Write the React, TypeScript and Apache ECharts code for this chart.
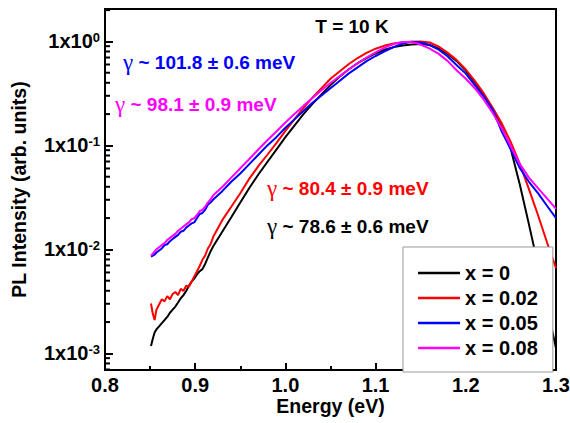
import React, { useEffect, useRef } from "react";
import * as echarts from "echarts";

// Photon energy (eV): finely sampled noisy low-energy tail + main band
const energyLow = [0.851, 0.853, 0.855, 0.857, 0.86, 0.863, 0.866, 0.869, 0.872, 0.875, 0.878, 0.881, 0.884, 0.887, 0.89, 0.893, 0.896, 0.899, 0.902, 0.905, 0.908, 0.911, 0.914, 0.917];
const energyHigh = [0.92, 0.93, 0.94, 0.95, 0.96, 0.97, 0.98, 0.99, 1.0, 1.01, 1.02, 1.03, 1.04, 1.05, 1.06, 1.07, 1.08, 1.09, 1.1, 1.11, 1.12, 1.13, 1.14, 1.15, 1.16, 1.17, 1.18, 1.19, 1.2, 1.21, 1.22, 1.23, 1.24, 1.25, 1.26, 1.27, 1.28, 1.29, 1.3];

// Normalised PL intensity (arb. units)
const x0Low = [0.00118, 0.00138, 0.00159, 0.0017, 0.00182, 0.00195, 0.00209, 0.00224, 0.00246, 0.00263, 0.00282, 0.00309, 0.00339, 0.00363, 0.00398, 0.00447, 0.0049, 0.00525, 0.00575, 0.00617, 0.00646, 0.00724, 0.00832, 0.00955];
const x0High = [0.0107, 0.0148, 0.0204, 0.0282, 0.0389, 0.0525, 0.0692, 0.0912, 0.12, 0.155, 0.2, 0.251, 0.309, 0.38, 0.457, 0.537, 0.617, 0.692, 0.767, 0.832, 0.881, 0.912, 0.933, 0.944, 0.923, 0.851, 0.759, 0.646, 0.525, 0.407, 0.302, 0.219, 0.148, 0.0912, 0.0417, 0.0174, 0.00708, 0.00282, 0.00112];

const x002Low = [0.00302, 0.0024, 0.00209, 0.00263, 0.00295, 0.00331, 0.00316, 0.00355, 0.00331, 0.00372, 0.00389, 0.00363, 0.00417, 0.00398, 0.00447, 0.00437, 0.0049, 0.0055, 0.00617, 0.00692, 0.00794, 0.00871, 0.0102, 0.0112];
const x002High = [0.0132, 0.0191, 0.0257, 0.0347, 0.0479, 0.0631, 0.0813, 0.105, 0.138, 0.178, 0.229, 0.288, 0.355, 0.437, 0.513, 0.603, 0.692, 0.776, 0.851, 0.912, 0.955, 0.982, 0.995, 1.0, 0.977, 0.891, 0.776, 0.661, 0.537, 0.417, 0.316, 0.229, 0.162, 0.107, 0.0661, 0.038, 0.0214, 0.0117, 0.00661];

const x005Low = [0.00851, 0.00871, 0.00891, 0.00933, 0.00977, 0.0102, 0.011, 0.0112, 0.012, 0.0126, 0.0132, 0.0138, 0.0148, 0.0151, 0.0162, 0.017, 0.0178, 0.0182, 0.02, 0.0219, 0.0224, 0.024, 0.0269, 0.0282];
const x005High = [0.0302, 0.0363, 0.0447, 0.0537, 0.0661, 0.0813, 0.1, 0.12, 0.148, 0.178, 0.214, 0.257, 0.302, 0.355, 0.417, 0.49, 0.562, 0.646, 0.724, 0.804, 0.881, 0.955, 0.993, 0.977, 0.923, 0.832, 0.716, 0.589, 0.49, 0.38, 0.295, 0.219, 0.135, 0.0912, 0.0603, 0.0447, 0.0347, 0.0263, 0.02];

const x008Low = [0.00871, 0.00912, 0.00955, 0.01, 0.0105, 0.011, 0.0115, 0.0123, 0.0129, 0.0135, 0.0141, 0.0151, 0.0158, 0.0166, 0.0174, 0.0182, 0.0195, 0.02, 0.0214, 0.0234, 0.024, 0.0257, 0.0282, 0.0302];
const x008High = [0.0331, 0.0398, 0.049, 0.0603, 0.0741, 0.0912, 0.112, 0.136, 0.166, 0.2, 0.24, 0.285, 0.339, 0.398, 0.462, 0.537, 0.617, 0.7, 0.785, 0.871, 0.944, 0.989, 0.989, 0.933, 0.851, 0.759, 0.646, 0.525, 0.437, 0.355, 0.275, 0.204, 0.145, 0.0977, 0.0661, 0.049, 0.0389, 0.0309, 0.0245];

const seriesNames = ["x = 0", "x = 0.02", "x = 0.05", "x = 0.08"];
const seriesColors = ["#000000", "#ff0000", "#0000ff", "#ff00ff"];
const seriesValues = [
  [...x0Low, ...x0High],
  [...x002Low, ...x002High],
  [...x005Low, ...x005High],
  [...x008Low, ...x008High],
];
const energies = [...energyLow, ...energyHigh];

// Log-axis minor tick values (2..9 x 10^n)
const minorTickValues = [0.0007, 0.0008, 0.0009, 0.002, 0.003, 0.004, 0.005, 0.006, 0.007, 0.008, 0.009, 0.02, 0.03, 0.04, 0.05, 0.06, 0.07, 0.08, 0.09, 0.2, 0.3, 0.4, 0.5, 0.6, 0.7, 0.8, 0.9, 2.0];

const annotations = [
  { text: " ~ 101.8 ± 0.6 meV", color: "#0000ff" },
  { text: " ~ 98.1 ± 0.9 meV", color: "#ff00ff" },
  { text: " ~ 80.4 ± 0.9 meV", color: "#ff0000" },
  { text: " ~ 78.6 ± 0.6 meV", color: "#000000" },
];
const annotationPos = [
  [123, 62],
  [115, 104],
  [267, 188],
  [267, 226],
];

const SANS = "Liberation Sans";

export default function App() {
  const ref = useRef<HTMLDivElement>(null);
  useEffect(() => {
    const chart = echarts.init(ref.current!, null, { renderer: "svg" });
    const lineSeries = seriesNames.map((name, k) => ({
      name,
      type: "line",
      data: energies.map((e, i) => [e, seriesValues[k][i]]),
      symbol: "none",
      showSymbol: false,
      color: seriesColors[k],
      lineStyle: { color: seriesColors[k], width: 2 },
      z: 2 + k * 0.1,
    }));
    const minorSeries = {
      name: "minorTicks",
      type: "custom",
      silent: true,
      z: 6,
      data: minorTickValues.map((v) => [0.8, v]),
      renderItem: (params: any, api: any) => {
        const p = api.coord([api.value(0), api.value(1)]);
        return {
          type: "line",
          shape: { x1: p[0], y1: p[1], x2: p[0] + 5, y2: p[1] },
          style: { stroke: "#000", lineWidth: 2 },
        };
      },
    };
    const graphics: any[] = [
      {
        type: "text",
        x: 352,
        y: 26,
        z: 10,
        style: {
          text: "T = 10 K",
          font: `bold 19px "${SANS}"`,
          fill: "#000",
          align: "center",
          verticalAlign: "middle",
        },
      },
      ...annotations.map((a, i) => ({
        type: "text",
        x: annotationPos[i][0],
        y: annotationPos[i][1],
        z: 10,
        style: {
          text: `{g|γ}{t|${a.text}}`,
          fill: a.color,
          align: "left",
          verticalAlign: "middle",
          rich: {
            g: { fontFamily: "Liberation Serif", fontSize: 23, fill: a.color, color: a.color },
            t: { fontFamily: SANS, fontWeight: "bold", fontSize: 19, fill: a.color, color: a.color },
          },
        },
      })),
    ];
    chart.setOption({
      animation: false,
      backgroundColor: "#ffffff",
      grid: {
        left: 105,
        right: 14,
        top: 9,
        bottom: 53,
        show: true,
        borderColor: "#000",
        borderWidth: 2,
        backgroundColor: "transparent",
        containLabel: false,
        outerBoundsMode: "none",
      },
      legend: {
        data: seriesNames,
        orient: "vertical",
        left: 403,
        top: 247,
        padding: [16, 15, 14, 15],
        itemGap: 5,
        itemWidth: 42,
        itemHeight: 2.5,
        icon: "rect",
        backgroundColor: "#ffffff",
        borderColor: "#999999",
        borderWidth: 1,
        borderRadius: 0,
        z: 8,
        textStyle: { fontFamily: SANS, fontWeight: "bold", fontSize: 20, color: "#000" },
      },
      xAxis: {
        type: "value",
        min: 0.8,
        max: 1.3,
        interval: 0.1,
        name: "Energy (eV)",
        nameLocation: "middle",
        nameGap: 26,
        nameMoveOverlap: false,
        nameTextStyle: { fontFamily: SANS, fontWeight: "bold", fontSize: 19.5, color: "#000" },
        axisLine: { show: true, lineStyle: { color: "#000", width: 2 } },
        axisTick: { show: true, inside: true, length: 7, lineStyle: { color: "#000", width: 2 } },
        minorTick: { show: true, splitNumber: 2, length: 4, lineStyle: { color: "#000", width: 2 } },
        splitLine: { show: false },
        minorSplitLine: { show: false },
        axisLabel: {
          color: "#000",
          fontFamily: SANS,
          fontWeight: "bold",
          fontSize: 20,
          margin: 5,
          formatter: (v: number) => v.toFixed(1),
        },
      },
      yAxis: {
        type: "log",
        logBase: 10,
        min: 6.92e-4,
        max: 2.05,
        name: "PL Intensity (arb. units)",
        nameLocation: "middle",
        nameGap: 76,
        nameMoveOverlap: false,
        nameTextStyle: { fontFamily: SANS, fontWeight: "bold", fontSize: 19.5, color: "#000" },
        axisLine: { show: true, lineStyle: { color: "#000", width: 2 } },
        axisTick: { show: true, inside: true, length: 8, lineStyle: { color: "#000", width: 2 } },
        splitLine: { show: false },
        axisLabel: {
          color: "#000",
          margin: 5,
          formatter: (v: number) => {
            const l = Math.log10(v);
            const e = Math.round(l);
            if (Math.abs(l - e) > 1e-6) return "";
            return `{b|1x10}{s|${e}}`;
          },
          rich: {
            b: { fontFamily: SANS, fontWeight: "bold", fontSize: 20, color: "#000", verticalAlign: "bottom", lineHeight: 20 },
            s: { fontFamily: SANS, fontWeight: "bold", fontSize: 13, color: "#000", verticalAlign: "top", padding: [0, 0, 6, 0] },
          },
        },
      },
      series: [...lineSeries, minorSeries],
      graphic: graphics,
    });
    return () => chart.dispose();
  }, []);
  return (
    <div
      ref={ref}
      style={{ position: "absolute", left: 0, top: 0, width: 570, height: 423 }}
    />
  );
}
